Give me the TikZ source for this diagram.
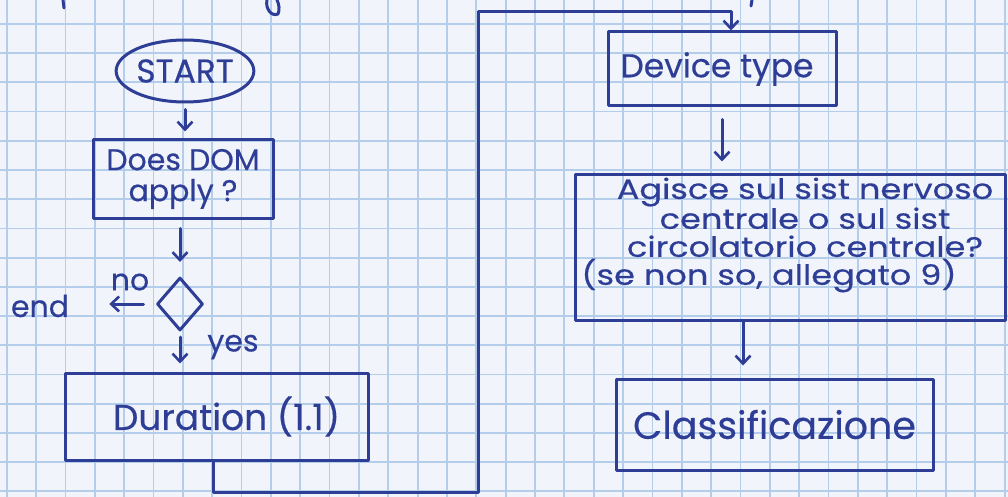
\documentclass[tikz,border=0pt]{standalone}
\usepackage{fontspec}
\newfontfamily\hand[FakeBold=0.4]{Poppins}
\newfontfamily\handw[FakeBold=0.4,FakeStretch=1.2]{Poppins}
\usetikzlibrary{shapes.geometric,arrows.meta}
\definecolor{paper}{RGB}{241,244,250}
\definecolor{gridc}{RGB}{180,205,234}
\definecolor{ink}{RGB}{46,62,150}
\newcommand{\hf}[2]{\hand\fontsize{#1}{#2}\selectfont}
\newcommand{\hfw}[2]{\handw\fontsize{#1}{#2}\selectfont}
\begin{document}
\begin{tikzpicture}[x=1pt,y=-1pt,
  pen/.style={draw=ink, line width=3pt, line cap=round, line join=round},
  txt/.style={text=ink, font=\hf{30}{31}, inner sep=0pt, align=center},
  box/.style={pen, txt, rectangle},
  arr/.style={pen, -{Straight Barb[length=8pt,width=15pt,line width=2.6pt]}}]
\useasboundingbox (0,0) rectangle (1008,497);
\fill[paper] (0,0) rectangle (1008,497);
\foreach \i in {0,...,34} \draw[gridc, line width=1.8pt] ({6.7+29.35*\i},0) -- ({6.7+29.35*\i},497);
\foreach \j in {0,...,16} \draw[gridc, line width=1.8pt] (0,{24+29.2*\j}) -- (1008,{24+29.2*\j});

% fragments of writing cut off at the top
\draw[pen] (63,0) -- (64,8);
\draw[pen] (267,0) .. controls (265,9) and (272,17) .. (278,14) .. controls (280,10) and (279,4) .. (277,0);
\draw[pen] (752,0) -- (751,6);

% left column
\node[pen, txt, font=\hf{33}{34}, ellipse, minimum width=137pt, minimum height=62pt] (start) at (185,71) {START};
\node[box, minimum width=180pt, minimum height=78pt] (dom) at (183,179) {Does DOM\\apply ?};
\node[pen, diamond, minimum width=46pt, minimum height=53pt, inner sep=0pt] (dec) at (180,304) {};
\node[txt] (end) at (40,306) {end};
\node[txt] (no) at (130,282) {no};
\node[txt] (yes) at (233,347) {yes};
\node[box, font=\hf{36}{37}, minimum width=303pt, minimum height=87pt] (dur) at (216.5,416.5) {\hspace*{20pt}Duration (1.1)};

% right column
\node[box, font=\hf{33}{34}, minimum width=228pt, minimum height=74pt] (dev) at (722,69) {\raisebox{-6pt}{Device type}\hspace*{10pt}};
\node[pen, rectangle, minimum width=430pt, minimum height=145pt] (agi) at (790,247.5) {};
\node[txt, font=\hfw{28}{28}] (agitext) at (805,235) {Agisce sul sist nervoso\\centrale o sul sist\\circolatorio centrale?\\(se non so, allegato 9)\hspace*{72pt}};
\node[box, font=\hf{38}{39}, minimum width=317pt, minimum height=91pt] (cla) at (774.5,424.5) {\raisebox{-7pt}{Classificazione}};

% connectors
\draw[arr, shorten <=6pt, shorten >=7pt] (start.south) -- (start.south |- dom.north);
\draw[arr, shorten <=9pt, shorten >=14pt] (dom.south -| dec.north) -- (dec.north);
\draw[arr, shorten <=12pt, shorten >=40pt] (dec.west) -- (dec.west -| end.east);
\draw[arr, shorten <=5pt, shorten >=8pt] (dec.south) -- (dec.south |- dur.north);
\coordinate (c1) at (213,492);
\coordinate (c2) at (478,492);
\coordinate (c3) at (478,12);
\coordinate (c4) at (731,12);
\draw[arr] (c1 |- dur.south) -- (c1) -- (c2) -- (c3) -- (c4) -- (c4 |- dev.north);
\draw[arr, shorten <=12pt, shorten >=12pt] (dev.south) -- (dev.south |- agi.north);
\draw[arr, shorten >=12pt] ([xshift=-47pt]agi.south) coordinate (p) -- (p |- cla.north);
\end{tikzpicture}
\end{document}
